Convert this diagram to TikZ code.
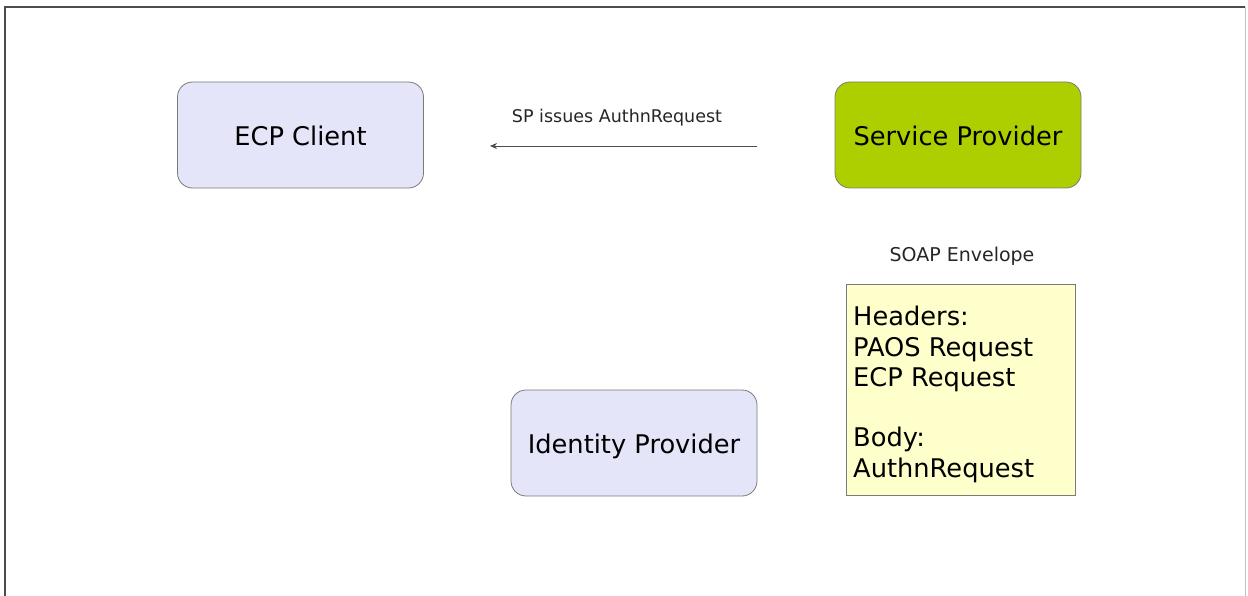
\documentclass[tikz,border=0pt]{standalone}
\usepackage{fontspec}
\setmainfont{DejaVu Sans}
\usetikzlibrary{arrows.meta}
\definecolor{lav}{HTML}{E5E5F9}
\definecolor{spgreen}{HTML}{ADCF00}
\definecolor{note}{HTML}{FFFFCC}
\definecolor{bord}{HTML}{7A7A7A}
\tikzset{
  actor/.style={draw=bord, line width=0.8pt, rounded corners=15pt, minimum width=246pt, minimum height=106pt, inner sep=0pt, text height=21pt, text depth=0pt, font=\fontsize{25.7}{30}\selectfont},
  notebox/.style={draw=bord, line width=0.8pt, fill=note, minimum width=229pt, minimum height=211pt, inner sep=0pt},
  small/.style={font=\fontsize{17.5}{21}\selectfont, text=black!85},
  msg/.style={draw=black!70, line width=0.7pt, -{Stealth[length=7pt,width=6pt]}}
}
\begin{document}
\begin{tikzpicture}[x=1pt,y=-1pt]
\useasboundingbox (0,0) rectangle (1248,596);
\draw[line width=1.6pt, black!70] (5,596) -- (5,7) -- (1245,7);
\draw[line width=1pt, black!25] (1245,7) -- (1245,596);
\node[actor, fill=lav] (ecp) at (300.5,135) {ECP Client};
\node[actor, fill=spgreen] (sp) at (958,135) {Service Provider};
\node[actor, fill=lav] (idp) at (634,443) {Identity Provider};
\node[notebox] (soap) at (960.5,389.5) {};
\node[anchor=north west, align=left, inner sep=0pt, font=\fontsize{25.7}{30.3}\selectfont] (soaptxt) at (853,306) {Headers:\\PAOS Request\\ECP Request\\[30.3pt]Body:\\AuthnRequest};
\node[small, font=\fontsize{19}{22}\selectfont] (soaplbl) at (962,256) {SOAP Envelope};
\coordinate (mstart) at (757,146);
\coordinate (mend) at (490,146);
\draw[msg] (mstart) -- node[small, above=16pt, xshift=-6.5pt] (mlbl) {SP issues AuthnRequest} (mend);
\end{tikzpicture}
\end{document}
